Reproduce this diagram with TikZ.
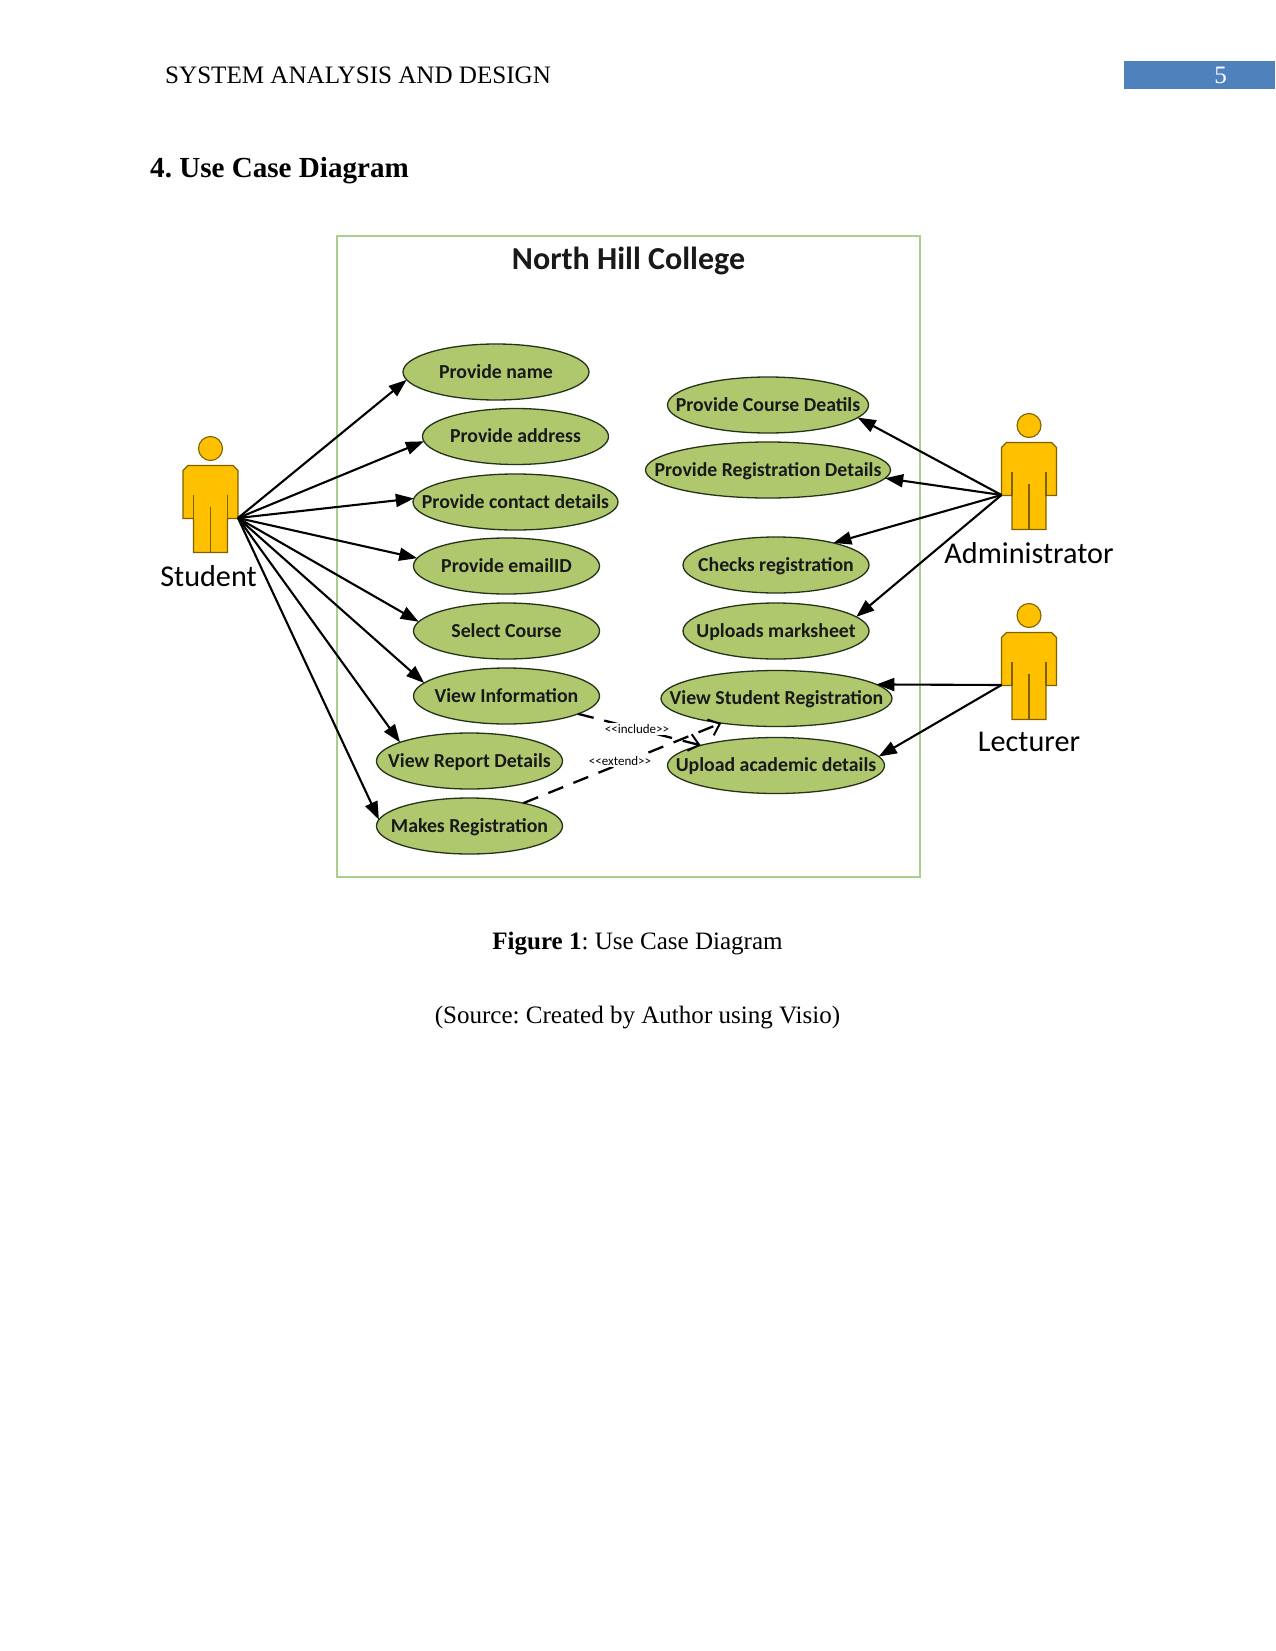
\documentclass[tikz,border=0pt]{standalone}
\usepackage{fontspec}
\setmainfont{Liberation Serif}
\newfontfamily\diagfont{Carlito}
\usetikzlibrary{shapes.geometric,arrows.meta}
\definecolor{ucfill}{HTML}{AFC86E}
\definecolor{ucline}{HTML}{26331A}
\definecolor{actfill}{HTML}{FFC000}
\definecolor{actline}{HTML}{7F6000}
\definecolor{framecol}{HTML}{A9CF8F}
\definecolor{barcol}{HTML}{4F81BD}
\newcommand{\uc}[1]{\makebox[0pt][c]{#1}}
\tikzset{
  usecase/.style={ellipse,draw=ucline,fill=ucfill,line width=1.3pt,inner sep=0pt,outer sep=0pt,
    text height=14.5pt,text depth=2.5pt,
    minimum width=#1,minimum height=56pt,font=\diagfont\fontsize{19.8}{22}\selectfont\bfseries,text=black!90},
  assoc/.style={line width=2.1pt,-{Triangle[length=18pt,width=13pt]}},
  dep/.style={line width=2.3pt,dash pattern=on 16pt off 11pt,-{Straight Barb[length=10pt,width=17pt,line width=2pt]}},
  deplabel/.style={fill=white,inner sep=1pt,font=\diagfont\fontsize{13}{15}\selectfont},
  actorname/.style={font=\diagfont\fontsize{30.2}{32}\selectfont,text=black},
  pagetext/.style={anchor=base,inner sep=0pt,font=\fontsize{25.05}{28}\selectfont},
}
\newcommand{\actorfig}[2]{%
  \begin{scope}[shift={(#1,#2)},draw=actline,fill=actfill,line width=1.1pt]
    \filldraw (0,-17) circle[radius=12pt];
    \filldraw (-22.5,0) -- (22.5,0) -- (27.5,5) -- (27.5,53) -- (17,53) -- (17,87) -- (-17,87) -- (-17,53) -- (-27.5,53) -- (-27.5,5) -- cycle;
    \draw (-17,29) -- (-17,53) (17,29) -- (17,53) (0,41) -- (0,87);
  \end{scope}}
\begin{document}
\frenchspacing
\begin{tikzpicture}[x=1pt,y=-1pt]
\useasboundingbox (0,0) rectangle (1275,1651);
\fill[white] (0,0) rectangle (1275,1651);
% page furniture
\fill[barcol] (1124,61) rectangle (1275,89);
\node[pagetext,text=white] (pageno) at (1220.5,84) {5};
\node[pagetext,anchor=base west,font=\fontsize{25.1}{28}\selectfont] (header) at (165,84) {SYSTEM ANALYSIS AND DESIGN};
\node[pagetext,anchor=base west,font=\fontsize{29.1}{32}\selectfont\bfseries] (heading) at (150,177) {4. Use Case Diagram};
\node[pagetext] (caption) at (637.5,949) {\textbf{Figure 1}: Use Case Diagram};
\node[pagetext] (source) at (637.5,1023) {(Source: Created by Author using Visio)};
% system frame
\draw[framecol,line width=1.1pt] (337,236) rectangle (920,877);
\node[font=\diagfont\fontsize{32}{34}\selectfont\bfseries,text=black!90] (title) at (628.5,261) {North Hill College};
% actors
\actorfig{210.5}{465.5}
\actorfig{1029}{442.5}
\actorfig{1029}{632.5}
\coordinate (student) at (238,518);
\coordinate (admin) at (1001.5,495);
\coordinate (lecturer) at (1001.5,685);
\node[actorname] (studentname) at (208.5,576) {Student};
\node[actorname] (adminname) at (1029,553) {Administrator};
\node[actorname] (lectname) at (1029,742) {Lecturer};
% use cases
\node[usecase=186pt] (name) at (496,372) {\uc{Provide name}};
\node[usecase=186pt] (address) at (515.5,436.5) {\uc{Provide address}};
\node[usecase=205pt] (contact) at (515.5,502) {\uc{Provide contact details}};
\node[usecase=186pt] (email) at (506.5,566) {\uc{Provide emailID}};
\node[usecase=186pt] (select) at (506.5,631) {\uc{Select Course}};
\node[usecase=186pt] (viewinfo) at (506.5,696) {\uc{View Information}};
\node[usecase=186pt] (report) at (469.5,761) {\uc{View Report Details}};
\node[usecase=186pt] (makes) at (469.5,826) {\uc{Makes Registration}};
\node[usecase=201pt] (course) at (768,405) {\uc{Provide Course Deatils}};
\node[usecase=245pt] (regdet) at (768,470) {\uc{Provide Registration Details}};
\node[usecase=186pt] (checks) at (776,565) {\uc{Checks registration}};
\node[usecase=186pt] (uploads) at (776,631) {\uc{Uploads marksheet}};
\node[usecase=231pt] (viewstud) at (776.5,698.5) {\uc{View Student Registration}};
\node[usecase=217pt] (academic) at (776,765.5) {\uc{Upload academic details}};
% associations
\draw[assoc] (student) -- (name.185);
\draw[assoc] (student) -- (address.183);
\draw[assoc] (student) -- (contact.178);
\draw[assoc] (student) -- (email.175);
\draw[assoc] (student) -- (select.174);
\draw[assoc] (student) -- (viewinfo.171);
\draw[assoc] (student) -- (report.165);
\draw[assoc] (student) -- (makes.176);
\draw[assoc] (admin) -- (course.-8);
\draw[assoc] (admin) -- (regdet.-4);
\draw[assoc] (admin) -- (checks.21);
\draw[assoc] (admin) -- (uploads.10);
\draw[assoc] (lecturer) -- (viewstud.8);
\draw[assoc] (lecturer) -- (academic.5);
% dependencies
\draw[dep] (viewinfo.-14) -- (academic.165);
\draw[dep] (makes.23) -- (viewstud.204);
\node[deplabel] (inc) at (637,729) {<<include>>};
\node[deplabel] (ext) at (620,761) {<<extend>>};
\end{tikzpicture}
\end{document}
